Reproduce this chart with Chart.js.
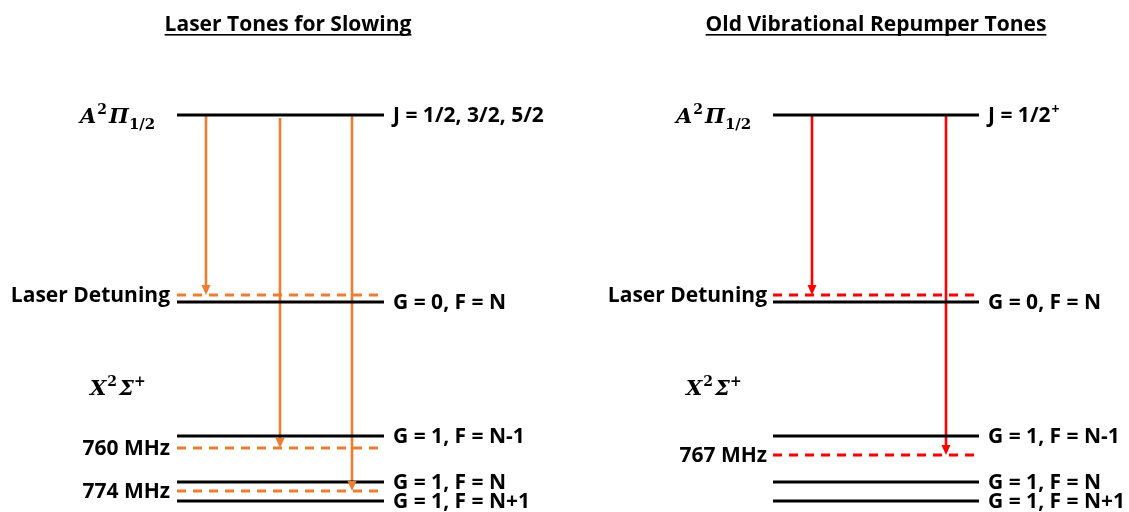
<!DOCTYPE html>
<html>
<head>
<meta charset="utf-8">
<script src="https://cdn.jsdelivr.net/npm/chart.js@4"></script>
<style>
  html, body { margin: 0; padding: 0; background: #fff; }
  #diagrama { display: block; }
</style>
</head>
<body>
<canvas id="diagrama" width="1129" height="512"></canvas>
<script>
// datos (x e y en unidades del diagrama)
const titulos = ["Laser Tones for Slowing", "Old Vibrational Repumper Tones"];
const tituloX = [288, 876];
const nivelX0 = [177, 773];
const nivelX1 = [384, 979];
const nivelY = [115, 302, 436, 482, 501];
const nivelesIzq = ["J = 1/2, 3/2, 5/2", "G = 0, F = N", "G = 1, F = N-1", "G = 1, F = N", "G = 1, F = N+1"];
const nivelesDer = ["J = 1/2", "G = 0, F = N", "G = 1, F = N-1", "G = 1, F = N", "G = 1, F = N+1"];
const supDer = ["+", "", "", "", ""];

// tonos del laser de frenado
const tonosLentoY = [295, 448, 491];
const tonosLentoTxt = ["Laser Detuning", "760 MHz", "774 MHz"];
const flechasLentoX = [206, 280, 352];
const flechasLentoY0 = [115, 118, 115];

// tonos del repump viejo
const tonosRepY = [295, 455];
const tonosRepTxt = ["Laser Detuning", "767 MHz"];
const flechasRepX = [812, 946];
const flechasRepY0 = [115, 115];

const naranja = "#ED7D31";
const rojo = "#FF0000";

let datasets = [];

function linea(x0, x1, y, color, dash){
    return {
        data: [{x: x0, y: y}, {x: x1, y: y}],
        showLine: true,
        borderColor: color,
        borderWidth: 3,
        borderDash: dash || [],
        pointRadius: 0
    };
}
function flecha(x, y0, y1, color){
    return {
        data: [{x: x, y: y0}, {x: x, y: y1 - 8}],
        showLine: true,
        borderColor: color,
        borderWidth: 2.6,
        pointRadius: 0,
        flecha: {x: x, y: y1, color: color}
    };
}

for(let p = 0; p < 2; p++){
    for(let i = 0; i < nivelY.length; i++){
        datasets.push(linea(nivelX0[p], nivelX1[p], nivelY[i], "#000"));
    }
}
for(let i = 0; i < tonosLentoY.length; i++){
    datasets.push(linea(nivelX0[0], nivelX1[0], tonosLentoY[i], naranja, [9, 7]));
}
for(let i = 0; i < tonosRepY.length; i++){
    datasets.push(linea(nivelX0[1], nivelX1[1], tonosRepY[i], rojo, [9, 7]));
}
for(let i = 0; i < flechasLentoX.length; i++){
    datasets.push(flecha(flechasLentoX[i], flechasLentoY0[i], tonosLentoY[i], naranja));
}
for(let i = 0; i < flechasRepX.length; i++){
    datasets.push(flecha(flechasRepX[i], flechasRepY0[i], tonosRepY[i], rojo));
}

const fuente = "'Open Sans'";

function textoEstado(ctx, x, y, partes){
    let cx = x;
    partes.forEach(function(p){
        ctx.font = p.f;
        ctx.fillText(p.t, cx, y + (p.dy || 0));
        cx += ctx.measureText(p.t).width + (p.sep || 0);
    });
}

const textos = {
    id: "textos",
    afterDatasetsDraw(chart){
        const ctx = chart.ctx;
        const sx = chart.scales.x, sy = chart.scales.y;
        ctx.save();

        // cabezas de flecha
        chart.data.datasets.forEach(function(d){
            if(!d.flecha) return;
            const px = sx.getPixelForValue(d.flecha.x);
            const py = sy.getPixelForValue(d.flecha.y);
            ctx.fillStyle = d.flecha.color;
            ctx.beginPath();
            ctx.moveTo(px, py);
            ctx.lineTo(px - 4.5, py - 10);
            ctx.lineTo(px + 4.5, py - 10);
            ctx.closePath();
            ctx.fill();
        });
        ctx.fillStyle = "#000";

        // titulos subrayados
        ctx.font = "bold 21px " + fuente;
        ctx.textAlign = "center";
        ctx.textBaseline = "alphabetic";
        for(let p = 0; p < 2; p++){
            const px = sx.getPixelForValue(tituloX[p]);
            const py = sy.getPixelForValue(31);
            ctx.fillText(titulos[p], px, py);
            const w = ctx.measureText(titulos[p]).width;
            ctx.fillRect(px - w / 2, py + 3, w, 1.6);
        }

        // etiquetas de niveles
        ctx.textAlign = "left";
        ctx.textBaseline = "middle";
        ctx.font = "bold 21px " + fuente;
        for(let p = 0; p < 2; p++){
            const lab = p == 0 ? nivelesIzq : nivelesDer;
            for(let i = 0; i < nivelY.length; i++){
                const lx = sx.getPixelForValue(nivelX1[p] + 9);
                const ly = sy.getPixelForValue(nivelY[i] + 1);
                ctx.fillText(lab[i], lx, ly);
                if(p == 1 && supDer[i]){
                    const w = ctx.measureText(lab[i]).width;
                    ctx.font = "bold 14px " + fuente;
                    ctx.fillText(supDer[i], lx + w + 1, ly - 6);
                    ctx.font = "bold 21px " + fuente;
                }
            }
        }

        // etiquetas de tonos
        ctx.textAlign = "right";
        for(let i = 0; i < tonosLentoY.length; i++){
            ctx.fillText(tonosLentoTxt[i], sx.getPixelForValue(nivelX0[0] - 7), sy.getPixelForValue(tonosLentoY[i] + 1));
        }
        for(let i = 0; i < tonosRepY.length; i++){
            ctx.fillText(tonosRepTxt[i], sx.getPixelForValue(nivelX0[1] - 6), sy.getPixelForValue(tonosRepY[i] + 1));
        }

        // estados electronicos
        ctx.textAlign = "left";
        ctx.textBaseline = "alphabetic";
        const serif = "'DejaVu Serif'";
        for(let p = 0; p < 2; p++){
            const ax = sx.getPixelForValue(nivelX0[p] - 97);
            textoEstado(ctx, ax, sy.getPixelForValue(123), [
                {t: "A", f: "italic bold 21px " + serif, sep: 1},
                {t: "2", f: "bold 14px " + serif, dy: -9, sep: 2},
                {t: "\u03A0", f: "italic bold 21px " + serif, sep: 0},
                {t: "1/2", f: "bold 15px " + serif, dy: 6}
            ]);
            const xx = sx.getPixelForValue(nivelX0[p] - 87);
            textoEstado(ctx, xx, sy.getPixelForValue(395), [
                {t: "X", f: "italic bold 21px " + serif, sep: 1},
                {t: "2", f: "bold 14px " + serif, dy: -9, sep: 2},
                {t: "\u03A3", f: "italic bold 21px " + serif, sep: 0},
                {t: "+", f: "bold 14px " + serif, dy: -9}
            ]);
        }
        ctx.restore();
    }
};

new Chart(document.getElementById("diagrama"), {
    type: "scatter",
    data: { datasets: datasets },
    options: {
        responsive: false,
        animation: false,
        devicePixelRatio: 1,
        layout: { padding: 0 },
        plugins: { legend: { display: false }, tooltip: { enabled: false } },
        scales: {
            x: { type: "linear", min: 0, max: 1129, display: false },
            y: { type: "linear", min: 0, max: 512, reverse: true, display: false }
        }
    },
    plugins: [textos]
});
</script>
</body>
</html>
